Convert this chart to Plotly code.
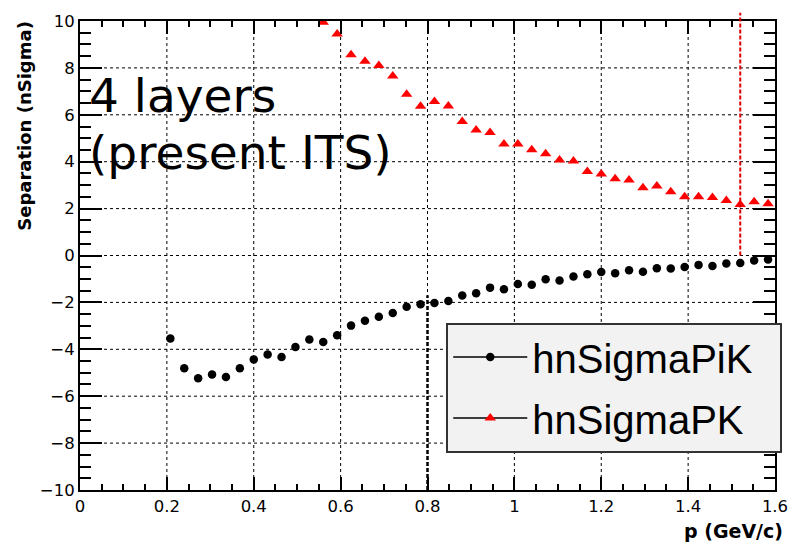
import plotly.graph_objects as go

# ---------------- data ----------------
p_pik = [0.208, 0.240, 0.272, 0.304, 0.336, 0.368, 0.400, 0.432, 0.464, 0.496,
         0.528, 0.560, 0.592, 0.624, 0.656, 0.688, 0.720, 0.752, 0.784, 0.816,
         0.848, 0.880, 0.912, 0.944, 0.976, 1.008, 1.040, 1.072, 1.104, 1.136,
         1.168, 1.200, 1.232, 1.264, 1.296, 1.328, 1.360, 1.392, 1.424, 1.456,
         1.488, 1.520, 1.552, 1.584]
nsigma_pik = [-3.54, -4.81, -5.23, -5.07, -5.18, -4.81, -4.43, -4.22, -4.33, -3.90,
              -3.58, -3.69, -3.40, -2.99, -2.78, -2.61, -2.45, -2.19, -2.08, -2.03,
              -1.94, -1.71, -1.61, -1.37, -1.44, -1.22, -1.25, -1.01, -1.07, -0.90,
              -0.80, -0.70, -0.76, -0.63, -0.69, -0.54, -0.55, -0.49, -0.40, -0.45,
              -0.34, -0.32, -0.21, -0.17]

p_pk = [0.560, 0.592, 0.624, 0.656, 0.688, 0.720, 0.752, 0.784, 0.816, 0.848,
        0.880, 0.912, 0.944, 0.976, 1.008, 1.040, 1.072, 1.104, 1.136, 1.168,
        1.200, 1.232, 1.264, 1.296, 1.328, 1.360, 1.392, 1.424, 1.456, 1.488,
        1.520, 1.552, 1.584]
nsigma_pk = [9.95, 9.45, 8.56, 8.28, 8.10, 7.65, 6.88, 6.36, 6.57, 6.37,
             5.71, 5.35, 5.25, 4.76, 4.76, 4.51, 4.34, 4.07, 4.03, 3.58,
             3.48, 3.27, 3.22, 2.89, 2.96, 2.72, 2.51, 2.51, 2.47, 2.35,
             2.18, 2.29, 2.21]

# cut markers (momentum where separation reaches threshold)
cut_pik_p = 0.8
cut_pik_y = [-10, -1.7]
cut_pk_p = 1.52
cut_pk_y = [0, 10.35]

x_range = [0, 1.6]
y_range = [-10, 10]
x_dtick, x_minor = 0.2, 0.05
y_dtick, y_minor = 2, 0.5

names = ["hnSigmaPiK", "hnSigmaPK"]
annotation_lines = ["4 layers", "(present ITS)"]
x_title = "p (GeV/c)"
y_title = "Separation (nSigma)"

fig = go.Figure()

# dotted grid at the major tick positions (drawn as a line trace)
gx, gy = [], []
nx = int(round((x_range[1] - x_range[0]) / x_dtick))
for i in range(1, nx):
    v = round(x_range[0] + i * x_dtick, 6)
    gx += [v, v, None]
    gy += [y_range[0], y_range[1], None]
ny = int(round((y_range[1] - y_range[0]) / y_dtick))
for i in range(1, ny):
    v = round(y_range[0] + i * y_dtick, 6)
    gx += [x_range[0], x_range[1], None]
    gy += [v, v, None]
fig.add_trace(go.Scatter(x=gx, y=gy, mode="lines",
                         line=dict(color="black", width=1, dash="dot"),
                         showlegend=False, hoverinfo="skip"))

fig.add_trace(go.Scatter(x=p_pik, y=nsigma_pik, mode="markers",
                         marker=dict(symbol="circle", size=8.5, color="black"),
                         showlegend=False, legendgroup="a"))
fig.add_trace(go.Scatter(x=p_pk, y=nsigma_pk, mode="markers",
                         marker=dict(symbol="triangle-up", size=10, color="red"),
                         showlegend=False, legendgroup="b"))

# legend entries (line + marker style as in the ROOT legend)
pad = "\u00a0\u00a0"
fig.add_trace(go.Scatter(x=[None], y=[None], mode="lines+markers", name=names[0] + pad,
                         line=dict(color="black", width=1.5),
                         marker=dict(symbol="circle", size=8.5, color="black"),
                         legendgroup="a"))
fig.add_trace(go.Scatter(x=[None], y=[None], mode="lines+markers", name=names[1] + pad,
                         line=dict(color="black", width=1.5),
                         marker=dict(symbol="triangle-up", size=10, color="red"),
                         legendgroup="b"))

fig.add_shape(type="line", xref="x", yref="y",
              x0=cut_pik_p, x1=cut_pik_p, y0=cut_pik_y[0], y1=cut_pik_y[1],
              line=dict(color="black", width=2.5, dash="4px,2px"))


def y_to_paper(v):
    return (v - y_range[0]) / (y_range[1] - y_range[0])


fig.add_shape(type="line", xref="x", yref="paper",
              x0=cut_pk_p, x1=cut_pk_p, y0=y_to_paper(cut_pk_y[0]), y1=y_to_paper(cut_pk_y[1]),
              line=dict(color="#dd0000", width=2, dash="4px,2px"))

tick_font = dict(family="DejaVu Sans", size=16.5, color="black")

fig.update_xaxes(range=x_range, tickmode="linear", tick0=0, dtick=x_dtick,
                 showline=True, linecolor="black", linewidth=2, mirror="allticks",
                 ticks="inside", ticklen=13, tickwidth=1.5, tickcolor="black",
                 minor=dict(dtick=x_minor, ticks="inside", ticklen=6, tickwidth=1.5,
                            tickcolor="black"),
                 showgrid=False, zeroline=False, tickfont=tick_font)
fig.update_yaxes(range=y_range, tickmode="linear", tick0=0, dtick=y_dtick,
                 showline=True, linecolor="black", linewidth=2, mirror="allticks",
                 ticks="inside", ticklen=22, tickwidth=1.5, tickcolor="black",
                 minor=dict(dtick=y_minor, ticks="inside", ticklen=11, tickwidth=1.5,
                            tickcolor="black"),
                 showgrid=False, zeroline=False, tickfont=tick_font)

# big label text
fig.add_annotation(text=annotation_lines[0], xref="paper", yref="paper",
                   x=(87 - 80) / 704, y=(490 - 90) / 476, xanchor="left", yanchor="middle",
                   showarrow=False, font=dict(family="DejaVu Sans", size=47, color="black"))
fig.add_annotation(text=annotation_lines[1], xref="paper", yref="paper",
                   x=(87 - 80) / 704, y=(490 - 147) / 476, xanchor="left", yanchor="middle",
                   showarrow=False, font=dict(family="DejaVu Sans", size=47, color="black"))

# axis titles (ROOT style: aligned to the axis end)
fig.add_annotation(text="<b>" + x_title + "</b>", xref="paper", yref="paper",
                   x=1.0 + 10 / 704, y=(490 - 532) / 476, xanchor="right", yanchor="middle",
                   showarrow=False,
                   font=dict(family="DejaVu Sans", size=19, color="black"))
fig.add_annotation(text="<b>" + y_title + "</b>", xref="paper", yref="paper", textangle=-90,
                   x=(23 - 80) / 704, y=1.0 + 2 / 476, xanchor="center", yanchor="top",
                   showarrow=False,
                   font=dict(family="DejaVu Sans", size=18, color="black"))

fig.update_layout(
    width=800, height=544,
    margin=dict(l=80, r=17, t=14, b=54),
    paper_bgcolor="white", plot_bgcolor="white",
    legend=dict(x=(451 - 80) / 704, y=(496 - 326) / 476, xanchor="left", yanchor="top",
                bgcolor="#f2f2f2", bordercolor="#333333", borderwidth=2,
                font=dict(family="Liberation Sans", size=40, color="black"),
                itemwidth=74, tracegroupgap=6),
)

fig.write_html("out.html")
